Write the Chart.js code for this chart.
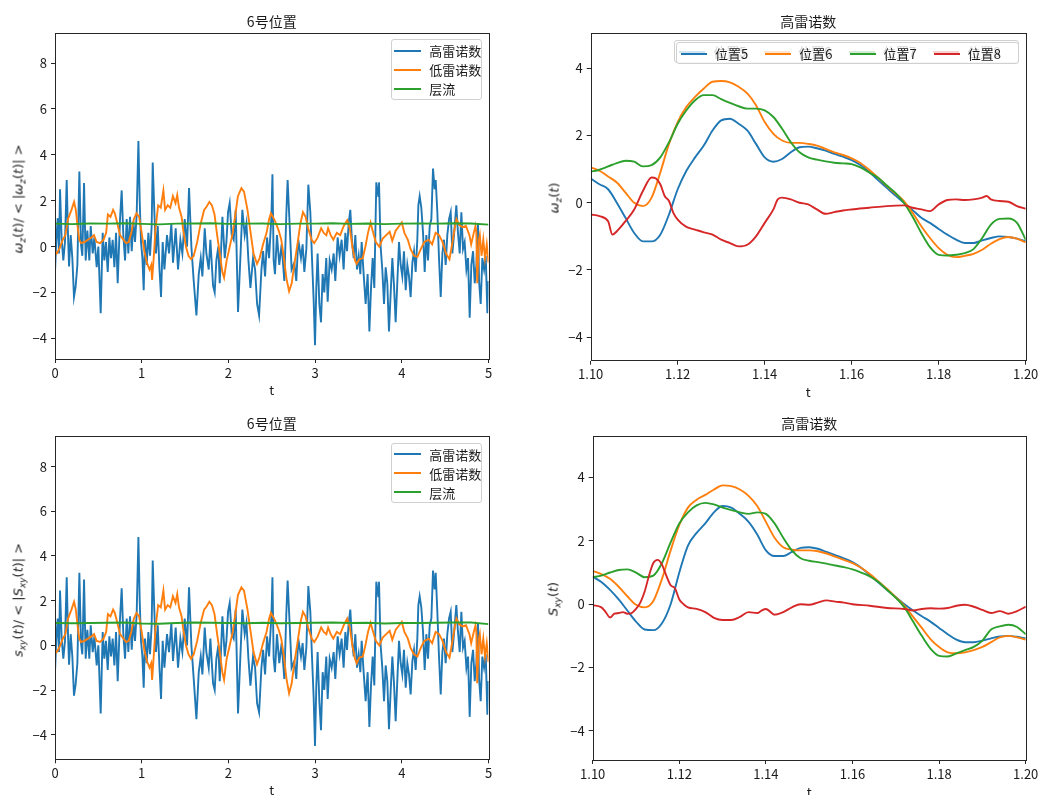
<!DOCTYPE html>
<html lang="zh">
<head>
<meta charset="utf-8">
<title>涡量与剪切应变率时程</title>
<script src="https://cdn.jsdelivr.net/npm/chart.js@4.4.1/dist/chart.umd.min.js"></script>
<style>
  html, body { margin: 0; padding: 0; background: #fff; overflow: hidden; }
  #fig { position: relative; width: 1046px; height: 795px; overflow: hidden; }
  .panel { position: absolute; }
  .panel canvas { display: block; }
  .legend {
    position: absolute; box-sizing: border-box;
    background: rgba(255, 255, 255, 0.8);
    border: 1px solid #d0d0d0; border-radius: 3px;
    font: 13px "Noto Sans CJK SC", sans-serif; color: #1a1a1a;
  }
  .legend.row { display: flex; }
  .legend .item { display: flex; align-items: center; height: 19px; line-height: 19px; white-space: nowrap; flex: none; }
  .legend .swatch { display: block; flex: none; width: 27px; height: 2px; margin-right: 8px; }
  .ylab {
    position: absolute; white-space: nowrap;
    transform: translate(-50%, -50%) rotate(-90deg);
    font: 13px "DejaVu Sans", sans-serif; color: #1a1a1a;
  }
  .ylab i { font-style: italic; }
  .ylab sub { font-size: 9px; vertical-align: -3px; line-height: 0; }
</style>
</head>
<body>
<div id="fig"></div>
<script>
// ---- 6号位置, 0–5 s 全程（归一化） ----
const tHigh = [
  0.000, 0.015, 0.031, 0.046, 0.058, 0.077, 0.096, 0.115, 0.135, 0.150,
  0.162, 0.181, 0.200, 0.219, 0.238, 0.258, 0.281, 0.300, 0.315, 0.335,
  0.354, 0.373, 0.396, 0.412, 0.435, 0.454, 0.481, 0.500, 0.527, 0.550,
  0.569, 0.588, 0.608, 0.627, 0.646, 0.665, 0.685, 0.704, 0.723, 0.750,
  0.769, 0.788, 0.808, 0.827, 0.846, 0.865, 0.885, 0.904, 0.923, 0.942,
  0.962, 0.977, 0.992, 1.008, 1.023, 1.038, 1.058, 1.077, 1.096, 1.115,
  1.127, 1.146, 1.165, 1.185, 1.204, 1.223, 1.242, 1.262, 1.292, 1.315,
  1.342, 1.361, 1.392, 1.419, 1.446, 1.469, 1.496, 1.523, 1.546, 1.573,
  1.600, 1.631, 1.658, 1.681, 1.700, 1.727, 1.746, 1.773, 1.792, 1.823,
  1.842, 1.861, 1.884, 1.900, 1.931, 1.958, 1.977, 1.996, 2.015, 2.038,
  2.061, 2.084, 2.111, 2.138, 2.161, 2.188, 2.208, 2.231, 2.254, 2.284,
  2.308, 2.331, 2.354, 2.381, 2.400, 2.423, 2.446, 2.469, 2.496, 2.508,
  2.522, 2.537, 2.560, 2.587, 2.614, 2.645, 2.668, 2.683, 2.706, 2.729,
  2.760, 2.783, 2.806, 2.837, 2.856, 2.876, 2.899, 2.922, 2.945, 2.964,
  2.983, 2.999, 3.014, 3.029, 3.049, 3.068, 3.087, 3.106, 3.129, 3.145,
  3.168, 3.191, 3.214, 3.233, 3.260, 3.283, 3.306, 3.329, 3.349, 3.368,
  3.387, 3.406, 3.426, 3.445, 3.464, 3.483, 3.503, 3.522, 3.537, 3.560,
  3.583, 3.606, 3.626, 3.645, 3.664, 3.683, 3.706, 3.729, 3.737, 3.756,
  3.775, 3.795, 3.814, 3.833, 3.852, 3.872, 3.891, 3.910, 3.929, 3.949,
  3.968, 3.987, 4.006, 4.025, 4.045, 4.064, 4.083, 4.102, 4.122, 4.141,
  4.160, 4.179, 4.191, 4.206, 4.225, 4.245, 4.264, 4.283, 4.302, 4.322,
  4.341, 4.360, 4.379, 4.391, 4.410, 4.429, 4.449, 4.468, 4.487, 4.506,
  4.525, 4.545, 4.564, 4.583, 4.602, 4.629, 4.648, 4.668, 4.687, 4.706,
  4.725, 4.745, 4.764, 4.783, 4.802, 4.822, 4.841, 4.860, 4.879, 4.891,
  4.910, 4.929, 4.949, 4.968, 4.987, 5.000
];
// 高雷诺数 ω_z/<|ω_z|>
const wHigh = [
  -1.1, 0.3, 1.24, -0.3, 2.5, 0.3, -0.6, 0.2, 2.9, 0.5,
  -0.87, 0.5, -0.5, -2.2, -1.75, -0.8, 3.27, 0.1, -0.4, 2.77,
  -0.6, 0.7, -0.6, 0.9, -0.3, 0.4, -0.9, 0.0, -2.9, 0.6,
  -0.6, 0.2, -1.1, 0.4, -0.5, 0.3, -0.9, 0.6, -1.6, 1.2,
  2.45, 0.5, -0.6, 1.2, -0.3, 1.3, -0.2, 1.1, 0.2, 1.4,
  4.6, 2.0, 0.2, -0.5, -1.9, 0.3, -0.8, 0.6, -0.4, 0.9,
  3.67, 1.5, -0.3, 0.9, -0.9, -2.2, 0.2, -1.0, 0.5, -0.3,
  1.0, -0.7, 0.8, -1.0, 0.3, -0.3, 1.2, 0.0, 2.55, 0.0,
  -1.5, -3.0, -1.2, -0.5, -1.3, 0.8, -0.3, -1.0, 0.3, -1.7,
  -2.0, -0.6, 0.0, -1.6, 1.3, -0.5, 0.2, 1.5, 1.9, 0.5,
  0.3, 1.6, -2.85, -0.5, 1.6, 0.5, 1.0, -0.6, -1.8, -0.5,
  -1.0, -2.5, -3.0, -1.0, -0.2, -1.3, 0.4, -0.5, 1.3, 3.15,
  -0.6, -1.2, 0.5, -0.8, 0.1, -1.5, 1.4, 2.9, 1.0, -1.0,
  -0.7, -1.5, 0.3, -0.5, 0.1, -1.1, -0.1, 2.7, 1.5, -0.5,
  -2.3, -4.3, -1.8, -0.3, -2.5, -3.3, -1.2, -2.0, -0.5, -2.4,
  -0.6, -1.0, -0.3, -1.5, 0.4, -0.4, 0.3, -1.0, 0.6, -0.2,
  1.0, 1.6, 0.2, -0.5, 0.5, -1.0, -0.4, -1.2, 0.2, -1.2,
  -2.5, -1.2, -3.7, -1.8, -0.5, -1.8, 2.8, 2.2, 2.8, 0.0,
  -1.0, -2.5, -0.9, -1.6, -3.7, -2.0, -0.5, -1.7, -3.3, -1.5,
  0.2, -0.8, -1.3, -0.2, -1.9, -0.8, -1.3, -2.2, -0.7, -0.2,
  -1.1, 0.3, 1.8, 2.2, 1.7, 0.6, -1.1, 0.5, -0.6, 0.9,
  1.2, 3.4, 2.5, 2.9, 1.5, -0.5, -2.2, -0.3, 0.3, -0.8,
  0.5, 1.2, 1.5, -0.3, 0.5, 1.8, 0.6, -0.3, 1.5, -0.1,
  0.2, -1.0, -0.5, -3.1, -0.8, -0.2, -1.6, -0.8, 1.0, -1.5,
  -2.5, -0.5, -1.0, -0.4, -2.9, -1.5
];
// 高雷诺数 S_xy/<|S_xy|>
const sHigh = [
  -1.2, 0.3, 1.2, -0.3, 2.45, 0.3, -0.6, 0.2, 3.05, 0.5,
  -0.87, 0.5, -0.5, -2.25, -1.75, -0.8, 3.25, 0.1, -0.4, 2.95,
  -0.6, 0.7, -0.6, 0.9, -0.3, 0.4, -0.9, 0.0, -3.05, 0.6,
  -0.6, 0.2, -1.1, 0.4, -0.5, 0.3, -0.9, 0.6, -1.6, 1.2,
  2.55, 0.5, -0.6, 1.2, -0.3, 1.3, -0.2, 1.1, 0.2, 1.4,
  4.85, 2.0, 0.2, -0.5, -1.9, 0.3, -0.8, 0.6, -0.4, 0.9,
  3.8, 1.5, -0.3, 0.9, -0.9, -2.4, 0.2, -1.0, 0.5, -0.3,
  1.0, -0.7, 0.8, -1.0, 0.3, -0.3, 1.2, 0.0, 2.6, 0.0,
  -1.5, -3.3, -1.2, -0.5, -1.3, 0.8, -0.3, -1.0, 0.3, -1.7,
  -2.0, -0.6, 0.0, -1.6, 1.3, -0.5, 0.2, 1.5, 1.9, 0.5,
  0.3, 1.6, -3.05, -0.5, 1.6, 0.5, 1.0, -0.6, -1.8, -0.5,
  -1.0, -2.6, -3.0, -1.0, -0.2, -1.3, 0.4, -0.5, 1.3, 3.05,
  -0.6, -1.2, 0.5, -0.8, 0.1, -1.5, 1.4, 2.9, 1.0, -1.0,
  -0.7, -1.5, 0.3, -0.5, 0.1, -1.1, -0.1, 2.65, 1.5, -0.5,
  -2.3, -4.5, -1.8, -0.3, -2.5, -3.8, -1.2, -2.0, -0.5, -2.4,
  -0.6, -1.0, -0.3, -1.5, 0.4, -0.4, 0.3, -1.0, 0.6, -0.2,
  1.0, 1.6, 0.2, -0.5, 0.5, -1.0, -0.4, -1.2, 0.2, -1.2,
  -2.5, -1.2, -3.65, -1.8, -0.5, -1.8, 2.85, 2.2, 2.85, 0.0,
  -1.0, -2.5, -0.9, -1.6, -3.75, -2.0, -0.5, -1.7, -3.4, -1.5,
  0.2, -0.8, -1.3, -0.2, -1.9, -0.8, -1.3, -2.2, -0.7, -0.2,
  -1.1, 0.3, 1.8, 2.2, 1.7, 0.6, -1.1, 0.5, -0.6, 0.9,
  1.2, 3.35, 2.5, 3.25, 1.5, -0.5, -2.2, -0.3, 0.3, -0.8,
  0.5, 1.2, 1.5, -0.3, 0.5, 1.8, 0.6, -0.3, 1.5, -0.1,
  0.2, -1.0, -0.5, -3.2, -0.8, -0.2, -1.6, -0.8, 1.0, -1.5,
  -2.5, -0.5, -1.0, -0.4, -3.1, -1.6
];

const tLow = [
  0.00, 0.02, 0.05, 0.09, 0.12, 0.15, 0.19, 0.22, 0.24, 0.26,
  0.28, 0.30, 0.34, 0.38, 0.42, 0.45, 0.48, 0.52, 0.56, 0.59,
  0.61, 0.64, 0.67, 0.69, 0.72, 0.75, 0.78, 0.82, 0.85, 0.88,
  0.91, 0.94, 0.97, 1.00, 1.03, 1.06, 1.09, 1.11, 1.12, 1.14,
  1.16, 1.19, 1.22, 1.25, 1.27, 1.30, 1.33, 1.36, 1.39, 1.41,
  1.43, 1.46, 1.48, 1.51, 1.54, 1.57, 1.60, 1.64, 1.68, 1.72,
  1.75, 1.78, 1.81, 1.84, 1.87, 1.90, 1.93, 1.95, 1.98, 2.01,
  2.05, 2.08, 2.11, 2.15, 2.18, 2.22, 2.26, 2.29, 2.33, 2.36,
  2.40, 2.44, 2.47, 2.49, 2.52, 2.55, 2.58, 2.61, 2.64, 2.67,
  2.70, 2.73, 2.76, 2.80, 2.83, 2.86, 2.89, 2.92, 2.96, 2.99,
  3.03, 3.07, 3.10, 3.13, 3.15, 3.18, 3.21, 3.25, 3.29, 3.33,
  3.37, 3.40, 3.43, 3.46, 3.48, 3.51, 3.55, 3.58, 3.61, 3.64,
  3.67, 3.70, 3.74, 3.78, 3.82, 3.86, 3.89, 3.93, 3.97, 4.00,
  4.03, 4.07, 4.10, 4.14, 4.18, 4.22, 4.26, 4.31, 4.35, 4.39,
  4.43, 4.47, 4.51, 4.55, 4.58, 4.61, 4.63, 4.66, 4.70, 4.74,
  4.78, 4.80, 4.83, 4.85, 4.86, 4.87, 4.89, 4.90, 4.92, 4.94,
  4.96, 4.98, 5.00
];
// 低雷诺数 ω_z/<|ω_z|>
const wLow = [
  -0.2, -0.3, -0.1, 0.3, 0.5, 1.2, 1.6, 1.95, 1.6, 0.9,
  0.3, 0.15, 0.2, 0.3, 0.4, 0.5, 0.2, 0.15, 0.3, 0.6,
  1.4, 1.3, 1.6, 1.45, 1.0, 0.5, 0.35, 0.15, 0.2, 0.6,
  1.2, 1.45, 1.3, 0.6, -0.2, -0.7, -1.0, -0.8, -1.45, -0.4,
  0.8, 1.8, 1.7, 2.45, 1.6, 1.8, 1.7, 2.2, 1.9, 2.25,
  1.7, 1.3, 0.7, 0.0, -0.4, -0.55, -0.4, 0.2, 1.0, 1.6,
  1.75, 1.95, 1.8, 1.4, 0.5, -0.3, -1.1, -1.35, -0.6, -0.1,
  0.6, 1.4, 2.2, 2.55, 2.4, 1.6, 0.5, -0.3, -0.75, -0.5,
  0.1, 0.6, 1.2, 1.45, 1.25, 1.0, 0.7, 0.3, -0.5, -1.4,
  -1.95, -1.6, -0.8, 0.2, 1.0, 1.5, 1.3, 0.8, 0.3, 0.15,
  0.4, 0.8, 0.6, 0.5, 0.8, 0.5, 0.3, 0.6, 0.5, 0.9,
  1.15, 0.8, 0.0, -0.6, -0.75, -0.55, -0.5, 0.0, 0.6, 1.05,
  0.6, 0.2, 0.0, 0.35, 0.5, 0.65, 0.25, 0.7, 0.9, 1.05,
  0.6, 0.3, -0.1, -0.4, -0.45, -0.1, 0.2, 0.3, 0.1, 0.6,
  0.5, 0.2, -0.3, -0.55, 0.1, 0.8, 1.2, 0.95, 0.85, 0.9,
  0.5, 0.1, 0.6, 0.9, 0.6, -1.6, 0.3, 0.5, -0.4, 0.3,
  -0.5, 0.1, -0.7
];
// 低雷诺数 S_xy/<|S_xy|>
const sLow = [
  -0.35, -0.3, -0.1, 0.3, 0.5, 1.2, 1.6, 1.95, 1.6, 0.9,
  0.3, 0.15, 0.2, 0.3, 0.4, 0.5, 0.2, 0.15, 0.3, 0.6,
  1.4, 1.3, 1.6, 1.45, 1.0, 0.5, 0.35, 0.15, 0.2, 0.6,
  1.2, 1.45, 1.3, 0.6, -0.2, -0.7, -1.0, -0.8, -1.55, -0.4,
  0.8, 1.8, 1.7, 2.45, 1.6, 1.8, 1.7, 2.2, 1.9, 2.3,
  1.7, 1.3, 0.7, 0.0, -0.4, -0.6, -0.4, 0.2, 1.0, 1.6,
  1.75, 1.95, 1.8, 1.4, 0.5, -0.3, -1.2, -1.55, -0.6, -0.1,
  0.6, 1.4, 2.25, 2.6, 2.45, 1.6, 0.5, -0.3, -0.85, -0.5,
  0.1, 0.6, 1.2, 1.45, 1.25, 1.0, 0.7, 0.3, -0.5, -1.5,
  -2.15, -1.7, -0.8, 0.2, 1.0, 1.5, 1.3, 0.8, 0.3, 0.15,
  0.4, 0.8, 0.6, 0.5, 0.8, 0.5, 0.3, 0.6, 0.5, 0.9,
  1.2, 0.8, 0.0, -0.6, -0.8, -0.55, -0.5, 0.0, 0.6, 1.0,
  0.6, 0.2, 0.0, 0.35, 0.5, 0.65, 0.25, 0.7, 0.9, 1.05,
  0.6, 0.3, -0.1, -0.4, -0.5, -0.1, 0.2, 0.3, 0.1, 0.6,
  0.5, 0.2, -0.3, -0.55, 0.1, 0.8, 1.2, 0.95, 0.85, 0.9,
  0.5, 0.1, 0.6, 0.9, 0.6, -1.7, 0.3, 0.5, -0.4, 0.3,
  -0.5, 0.1, -0.75
];

const tLam = [
  0.0, 0.2, 0.4, 0.6, 0.8, 1.0, 1.2, 1.4, 1.6, 1.8,
  2.0, 2.2, 2.4, 2.6, 2.8, 3.0, 3.2, 3.4, 3.6, 3.8,
  4.0, 4.2, 4.4, 4.6, 4.8, 5.0
];
const wLam = [
  1.0, 0.98, 1.01, 1.0, 1.02, 0.99, 0.97, 1.0, 1.01, 1.02,
  0.99, 1.0, 1.01, 0.98, 1.0, 1.0, 1.02, 0.99, 1.01, 0.98,
  1.0, 1.01, 1.0, 1.02, 1.01, 0.96
];
const sLam = [
  1.0, 0.99, 1.0, 1.01, 1.02, 0.98, 0.97, 1.0, 1.02, 1.01,
  1.0, 0.99, 1.01, 0.99, 1.0, 1.01, 1.02, 1.0, 1.01, 0.98,
  1.0, 1.0, 1.01, 1.02, 1.02, 0.95
];

// ---- 高雷诺数, 1.10–1.20 s 局部，各测点 ----
const tZoom = Array.from({ length: 51 }, (_, i) => +(1.1 + i * 0.002).toFixed(3));
const wPos5 = [
  0.72, 0.55, 0.4, 0.0, -0.45, -0.9, -1.15, -1.15, -0.95, -0.35,
  0.4, 0.95, 1.35, 1.7, 2.15, 2.45, 2.5, 2.35, 2.15, 1.75,
  1.35, 1.22, 1.3, 1.5, 1.65, 1.67, 1.62, 1.55, 1.45, 1.37,
  1.27, 1.12, 0.92, 0.68, 0.45, 0.22, 0.0, -0.22, -0.45, -0.6,
  -0.78, -0.95, -1.1, -1.2, -1.2, -1.12, -1.05, -1.0, -1.02, -1.07,
  -1.15
];
const wPos6 = [
  1.05, 0.95, 0.78, 0.6, 0.3, 0.0, -0.1, 0.15, 0.9, 1.75,
  2.4, 2.85, 3.15, 3.4, 3.6, 3.62, 3.58, 3.45, 3.25, 2.9,
  2.4, 2.05, 1.85, 1.78, 1.78, 1.75, 1.7, 1.6, 1.5, 1.42,
  1.32, 1.18, 0.98, 0.75, 0.5, 0.28, 0.05, -0.3, -0.7, -1.05,
  -1.35, -1.55, -1.62, -1.58, -1.52, -1.4, -1.22, -1.08, -1.02, -1.07,
  -1.18
];
const wPos7 = [
  0.92, 0.98, 1.08, 1.18, 1.25, 1.22, 1.08, 1.12, 1.35, 1.8,
  2.35, 2.75, 3.05, 3.2, 3.2, 3.08, 2.97, 2.87, 2.8, 2.8,
  2.75, 2.55, 2.2, 1.8, 1.5, 1.35, 1.28, 1.23, 1.19, 1.17,
  1.15, 1.05, 0.9, 0.75, 0.52, 0.3, 0.0, -0.42, -0.9, -1.32,
  -1.55, -1.57, -1.55, -1.5, -1.38, -1.05, -0.65, -0.48, -0.47, -0.6,
  -1.1
];
const tW8 = [
  1.100, 1.102, 1.104, 1.105, 1.106, 1.108, 1.110, 1.112, 1.114, 1.115,
  1.116, 1.117, 1.118, 1.119, 1.120, 1.122, 1.124, 1.126, 1.128, 1.130,
  1.132, 1.134, 1.136, 1.138, 1.140, 1.142, 1.143, 1.144, 1.146, 1.148,
  1.150, 1.152, 1.154, 1.156, 1.158, 1.160, 1.164, 1.168, 1.172, 1.174,
  1.176, 1.178, 1.180, 1.182, 1.184, 1.186, 1.188, 1.190, 1.191, 1.192,
  1.194, 1.196, 1.198, 1.200
];
const wPos8 = [
  -0.35, -0.4, -0.55, -0.95, -0.85, -0.55, -0.2, 0.35, 0.75, 0.72,
  0.55, 0.2, 0.05, -0.3, -0.5, -0.72, -0.8, -0.88, -0.95, -1.1,
  -1.2, -1.3, -1.25, -1.0, -0.6, -0.2, 0.1, 0.15, 0.1, 0.0,
  -0.05, -0.2, -0.33, -0.28, -0.23, -0.2, -0.15, -0.1, -0.08, -0.15,
  -0.2, -0.25, -0.05, 0.08, 0.1, 0.08, 0.1, 0.15, 0.2, 0.1,
  0.05, 0.03, -0.1, -0.18
];
const sPos5 = [
  0.87, 0.7, 0.45, 0.15, -0.2, -0.55, -0.8, -0.82, -0.6, 0.0,
  1.0, 1.85, 2.25, 2.55, 2.9, 3.1, 3.05, 2.85, 2.6, 2.2,
  1.7, 1.52, 1.52, 1.65, 1.78, 1.8, 1.75, 1.65, 1.55, 1.45,
  1.33, 1.15, 0.92, 0.68, 0.45, 0.22, 0.0, -0.2, -0.38, -0.55,
  -0.75, -0.95, -1.12, -1.2, -1.2, -1.15, -1.08, -1.02, -1.0, -1.03,
  -1.08
];
const sPos6 = [
  1.05, 0.95, 0.8, 0.55, 0.25, -0.02, -0.1, 0.1, 0.8, 1.7,
  2.5, 3.05, 3.3, 3.45, 3.62, 3.75, 3.73, 3.62, 3.42, 3.1,
  2.6, 2.1, 1.8, 1.72, 1.7, 1.7, 1.67, 1.6, 1.5, 1.4,
  1.3, 1.15, 0.95, 0.72, 0.48, 0.22, -0.05, -0.4, -0.75, -1.1,
  -1.35, -1.52, -1.55, -1.52, -1.45, -1.35, -1.2, -1.05, -1.0, -1.05,
  -1.12
];
const sPos7 = [
  0.85, 0.9, 1.0, 1.08, 1.1, 1.0, 0.85, 0.9, 1.3, 1.95,
  2.55, 2.9, 3.12, 3.2, 3.15, 3.05, 2.97, 2.9, 2.85, 2.9,
  2.85, 2.55, 2.1, 1.7, 1.45, 1.37, 1.33, 1.28, 1.22, 1.17,
  1.1, 1.0, 0.88, 0.7, 0.45, 0.2, -0.1, -0.55, -1.0, -1.4,
  -1.63, -1.65, -1.55, -1.45, -1.35, -1.15, -0.8, -0.7, -0.65, -0.72,
  -0.95
];
const tS8 = [
  1.100, 1.102, 1.103, 1.104, 1.105, 1.106, 1.107, 1.108, 1.109, 1.110,
  1.111, 1.112, 1.113, 1.114, 1.115, 1.116, 1.117, 1.118, 1.119, 1.120,
  1.121, 1.122, 1.124, 1.126, 1.128, 1.130, 1.132, 1.134, 1.136, 1.138,
  1.139, 1.140, 1.142, 1.144, 1.146, 1.148, 1.150, 1.152, 1.154, 1.156,
  1.158, 1.160, 1.164, 1.168, 1.172, 1.174, 1.176, 1.178, 1.180, 1.182,
  1.184, 1.186, 1.188, 1.190, 1.192, 1.194, 1.196, 1.198, 1.200
];
const sPos8 = [
  -0.03, -0.1, -0.25, -0.42, -0.3, -0.28, -0.25, -0.3, -0.28, -0.15,
  0.05, 0.4, 0.9, 1.3, 1.4, 1.25, 0.9, 0.6, 0.5, 0.15,
  0.0, -0.1, -0.15, -0.25, -0.43, -0.5, -0.5, -0.4, -0.25, -0.28,
  -0.2, -0.15, -0.33, -0.25, -0.1, 0.0, -0.02, 0.05, 0.12, 0.08,
  0.05, 0.0, -0.05, -0.12, -0.15, -0.2, -0.15, -0.13, -0.14, -0.12,
  -0.05, -0.02, -0.08, -0.18, -0.28, -0.22, -0.3, -0.22, -0.08
];

const fullTicksX = [0, 1, 2, 3, 4, 5];
const fullTicksY = [-4, -2, 0, 2, 4, 6, 8];
const zoomTicksX = [1.10, 1.12, 1.14, 1.16, 1.18, 1.20];
const zoomTicksY = [-4, -2, 0, 2, 4];
const flowLabels = ['高雷诺数', '低雷诺数', '层流'];
const posLabels = ['位置5', '位置6', '位置7', '位置8'];
const colors = ['#1f77b4', '#ff7f0e', '#2ca02c', '#d62728'];

const textColor = '#1a1a1a';
const family = '"Noto Sans CJK SC", "DejaVu Sans", sans-serif';
Chart.defaults.font.family = family;

// draws all four spines around the plot area
const frame = {
  id: 'frame',
  afterDraw(chart) {
    const { ctx, chartArea: a } = chart;
    ctx.save();
    ctx.strokeStyle = '#262626';
    ctx.lineWidth = 1;
    ctx.strokeRect(Math.round(a.left) + 0.5, Math.round(a.top) + 0.5,
      Math.round(a.right - a.left), Math.round(a.bottom - a.top));
    ctx.restore();
  }
};

const minus = (v) => (v < 0 ? '\u2212' + Math.abs(v) : String(v));

const panels = [
  {
    title: '6号位置', box: [0, 0, 523, 405],
    area: { left: 55, right: 488.5, top: 33.3, bottom: 359 }, titleY: 21.7, xTitleY: 390,
    x: [0, 5], y: [-4.9, 9.3], ticksX: fullTicksX, ticksY: fullTicksY, fmtX: (v) => String(v),
    series: [[tHigh, wHigh], [tLow, wLow], [tLam, wLam]], labels: flowLabels, smooth: false,
    legend: { left: 390.7, top: 39.3, width: 91.3, height: 61, cols: 1 },
    ylab: { x: 18.3, y: 199, html: '<i>ω</i><sub><i>z</i></sub>(<i>t</i>)/ &lt; |<i>ω</i><sub><i>z</i></sub>(<i>t</i>)| &gt;' }
  },
  {
    title: '高雷诺数', box: [523, 0, 523, 405],
    area: { left: 590.7, right: 1025.7, top: 33.3, bottom: 360.7 }, titleY: 21.7, xTitleY: 392.5,
    x: [1.1, 1.2], y: [-4.7, 5.04], ticksX: zoomTicksX, ticksY: zoomTicksY, fmtX: (v) => v.toFixed(2),
    series: [[tZoom, wPos5], [tZoom, wPos6], [tZoom, wPos7], [tW8, wPos8]], labels: posLabels, smooth: true,
    legend: { left: 674.3, top: 40, width: 344.7, height: 22.5, cols: 4 },
    ylab: { x: 554, y: 198, html: '<i>ω</i><sub><i>z</i></sub>(<i>t</i>)' }
  },
  {
    title: '6号位置', box: [0, 395, 523, 405],
    area: { left: 55, right: 488.5, top: 436, bottom: 759.3 }, titleY: 424, xTitleY: 790,
    x: [0, 5], y: [-5.1, 9.37], ticksX: fullTicksX, ticksY: fullTicksY, fmtX: (v) => String(v),
    series: [[tHigh, sHigh], [tLow, sLow], [tLam, sLam]], labels: flowLabels, smooth: false,
    legend: { left: 390.7, top: 442.7, width: 91.3, height: 60, cols: 1 },
    ylab: { x: 17.5, y: 600, html: '<i>s</i><sub><i>xy</i></sub>(<i>t</i>)/ &lt; |<i>S</i><sub><i>xy</i></sub>(<i>t</i>)| &gt;' }
  },
  {
    title: '高雷诺数', box: [523, 395, 523, 405],
    area: { left: 592.7, right: 1025.7, top: 435.7, bottom: 760 }, titleY: 424, xTitleY: 791.7,
    x: [1.1, 1.2], y: [-4.92, 5.32], ticksX: zoomTicksX, ticksY: zoomTicksY, fmtX: (v) => v.toFixed(2),
    series: [[tZoom, sPos5], [tZoom, sPos6], [tZoom, sPos7], [tS8, sPos8]], labels: posLabels, smooth: true,
    legend: { left: 676, top: 42.3, width: 343, height: 22, cols: 4 },
    ylab: { x: 553, y: 599, html: '<i>S</i><sub><i>xy</i></sub>(<i>t</i>)' }
  }
];

const fig = document.getElementById('fig');

function addLegend(chart, p) {
  const g = p.legend;
  const box = document.createElement('div');
  box.className = 'legend' + (g.cols > 1 ? ' row' : '');
  Object.assign(box.style, {
    left: g.left + 'px', top: g.top + 'px', width: g.width + 'px', height: g.height + 'px',
    padding: g.cols > 1 ? '1px 0 0 4px' : '1px 0 0 2.5px'
  });
  chart.data.datasets.forEach((ds) => {
    const item = document.createElement('div');
    item.className = 'item';
    if (g.cols > 1) item.style.width = ((g.width - 6) / g.cols) + 'px';
    const sw = document.createElement('span');
    sw.className = 'swatch';
    sw.style.backgroundColor = ds.borderColor;
    if (g.cols > 1) sw.style.width = '26px';
    const tx = document.createElement('span');
    tx.textContent = ds.label;
    item.append(sw, tx);
    box.appendChild(item);
  });
  fig.appendChild(box);
}

function makePanel(p) {
  const [bx, by, bw, bh] = p.box;
  const a = p.area;
  const wrap = document.createElement('div');
  wrap.className = 'panel';
  Object.assign(wrap.style, { left: bx + 'px', top: by + 'px', width: bw + 'px', height: bh + 'px' });
  const canvas = document.createElement('canvas');
  canvas.width = bw;
  canvas.height = bh;
  wrap.appendChild(canvas);
  fig.appendChild(wrap);

  const titleLine = 14 * 1.2;
  const titlePadTop = p.titleY - by - titleLine / 2;
  const titlePadBottom = a.top - by - titleLine - titlePadTop;
  const xAxisH = by + bh - a.bottom;
  const yAxisW = a.left - bx;
  const xTitlePad = by + bh - p.xTitleY - 13 * 1.2 / 2;
  const n = p.series.length;

  const chart = new Chart(canvas, {
    type: 'line',
    data: {
      datasets: p.series.map(([ts, ys], i) => ({
        label: p.labels[i],
        data: ts.map((t, k) => ({ x: t, y: ys[k] })),
        borderColor: colors[i],
        borderWidth: 1.9,
        pointRadius: 0,
        fill: false,
        order: n - i,
        cubicInterpolationMode: p.smooth ? 'monotone' : 'default',
        tension: 0
      }))
    },
    options: {
      responsive: false,
      animation: false,
      devicePixelRatio: 1,
      events: [],
      layout: { padding: { left: 0, top: 0, bottom: 0, right: bx + bw - a.right } },
      plugins: {
        legend: { display: false },
        tooltip: { enabled: false },
        title: {
          display: true, text: p.title, fullSize: false, color: textColor,
          font: { size: 14, weight: 'normal' },
          padding: { top: titlePadTop, bottom: titlePadBottom }
        }
      },
      scales: {
        x: {
          type: 'linear', min: p.x[0], max: p.x[1],
          afterBuildTicks: (s) => { s.ticks = p.ticksX.map((v) => ({ value: v })); },
          afterFit: (s) => { s.height = xAxisH; },
          grid: { drawOnChartArea: false, drawTicks: true, tickLength: 4, tickColor: '#262626', tickWidth: 1 },
          border: { display: false },
          ticks: { color: textColor, font: { size: 13 }, padding: 2, maxRotation: 0, autoSkip: false, callback: (v) => p.fmtX(v) },
          title: { display: true, text: 't', color: textColor, font: { size: 13 }, padding: { top: 0, bottom: xTitlePad } }
        },
        y: {
          type: 'linear', min: p.y[0], max: p.y[1],
          afterBuildTicks: (s) => { s.ticks = p.ticksY.map((v) => ({ value: v })); },
          afterFit: (s) => { s.width = yAxisW; },
          grid: { drawOnChartArea: false, drawTicks: true, tickLength: 4, tickColor: '#262626', tickWidth: 1 },
          border: { display: false },
          ticks: { color: textColor, font: { size: 13 }, padding: 4, autoSkip: false, callback: (v) => minus(v) }
        }
      }
    },
    plugins: [frame]
  });

  addLegend(chart, p);

  const yl = document.createElement('div');
  yl.className = 'ylab';
  yl.style.left = p.ylab.x + 'px';
  yl.style.top = p.ylab.y + 'px';
  yl.innerHTML = p.ylab.html;
  fig.appendChild(yl);
}

panels.forEach(makePanel);
</script>
</body>
</html>
